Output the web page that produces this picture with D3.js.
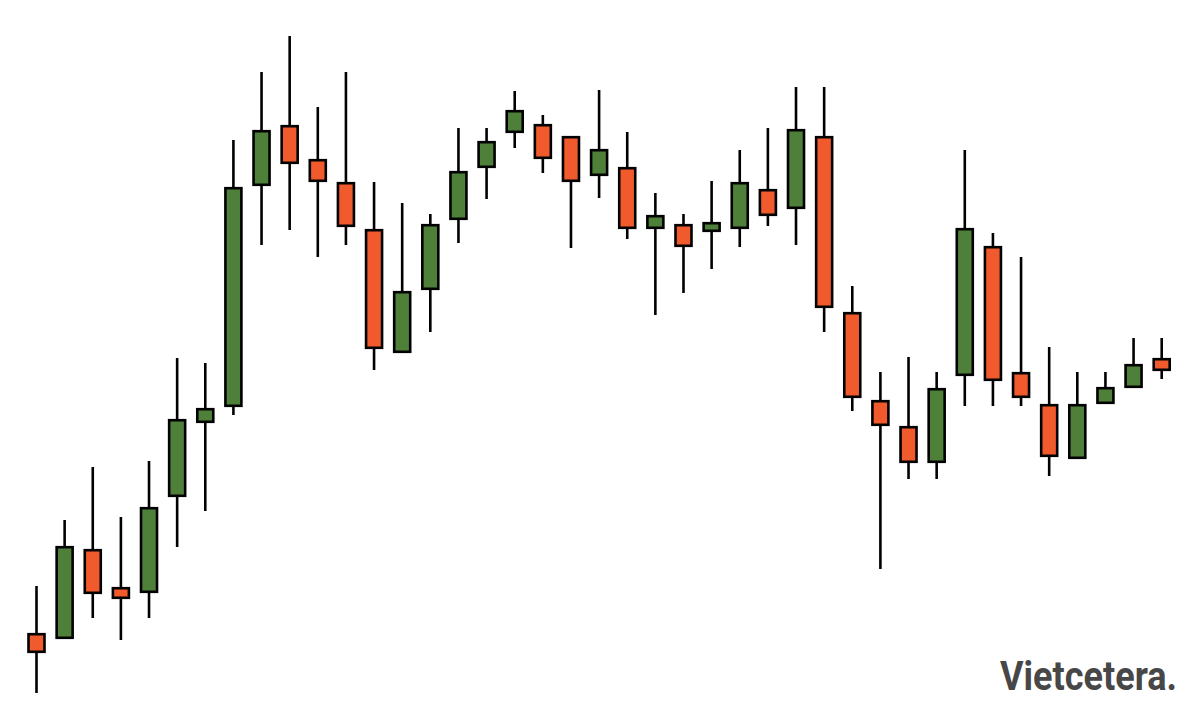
<!DOCTYPE html>
<html>
<head>
<meta charset="utf-8">
<script src="https://cdn.jsdelivr.net/npm/d3@7"></script>
<style>
  html, body { margin: 0; padding: 0; background: #ffffff; }
  svg { display: block; }
</style>
</head>
<body>
<svg id="chart" width="1200" height="716"></svg>
<script>
// Data (arbitrary price units)
const days   = d3.range(1, 42);
const opens  = [83, 77, 167, 129, 123, 219, 293, 309, 530, 591, 557, 534, 487, 363, 426, 496, 548, 583, 592, 580, 540, 549, 487, 492, 484, 487, 527, 507, 580, 404, 316, 290, 253, 340, 470, 344, 312, 257, 312, 328, 358];
const highs  = [130, 196, 249, 199, 255, 358, 353, 576, 644, 680, 609, 644, 534, 513, 502, 588, 588, 625, 601, 580, 626, 584, 523, 502, 535, 566, 588, 629, 629, 430, 344, 359, 344, 566, 483, 459, 369, 344, 344, 378, 378];
const lows   = [23, 77, 98, 76, 98, 169, 205, 301, 471, 486, 459, 471, 346, 363, 384, 473, 517, 568, 543, 468, 518, 477, 401, 423, 447, 469, 490, 471, 384, 305, 147, 237, 237, 310, 310, 310, 240, 257, 312, 328, 337];
const closes = [63, 170, 122, 117, 209, 297, 308, 529, 586, 552, 534, 489, 367, 425, 492, 545, 575, 606, 557, 534, 567, 487, 501, 469, 494, 534, 500, 587, 408, 318, 290, 253, 328, 488, 335, 318, 259, 312, 329, 352, 345];

const UP = "#4f803a";
const DOWN = "#f05a2c";

const svg = d3.select("#chart");
const x = d3.scalePoint().domain(days).range([36.5, 1161.7]);
const y = d3.scaleLinear().domain([0, 716]).range([716, 0]);

const data = days.map((d, i) => ({
  day: d, open: opens[i], high: highs[i], low: lows[i], close: closes[i]
}));

const bodyW = 16;

const g = svg.append("g");

// wicks
g.selectAll("line.wick").data(data).join("line")
  .attr("class", "wick")
  .attr("x1", d => x(d.day)).attr("x2", d => x(d.day))
  .attr("y1", d => y(d.high)).attr("y2", d => y(d.low))
  .attr("stroke", "#000").attr("stroke-width", 2.6);

// bodies
g.selectAll("rect.body").data(data).join("rect")
  .attr("class", "body")
  .attr("x", d => x(d.day) - bodyW / 2)
  .attr("y", d => y(Math.max(d.open, d.close)) + 1.2)
  .attr("width", bodyW)
  .attr("height", d => Math.max(1, Math.abs(y(d.open) - y(d.close)) - 2.4))
  .attr("fill", d => d.close >= d.open ? UP : DOWN)
  .attr("stroke", "#000").attr("stroke-width", 2.6);

// watermark
svg.append("text")
  .attr("x", 1000).attr("y", 690)
  .attr("font-family", "Roboto, 'Open Sans', sans-serif")
  .attr("font-weight", 700)
  .attr("font-size", 41)
  .attr("fill", "#474747")
  .attr("textLength", 177)
  .attr("lengthAdjust", "spacingAndGlyphs")
  .text("Vietcetera.");
</script>
</body>
</html>
